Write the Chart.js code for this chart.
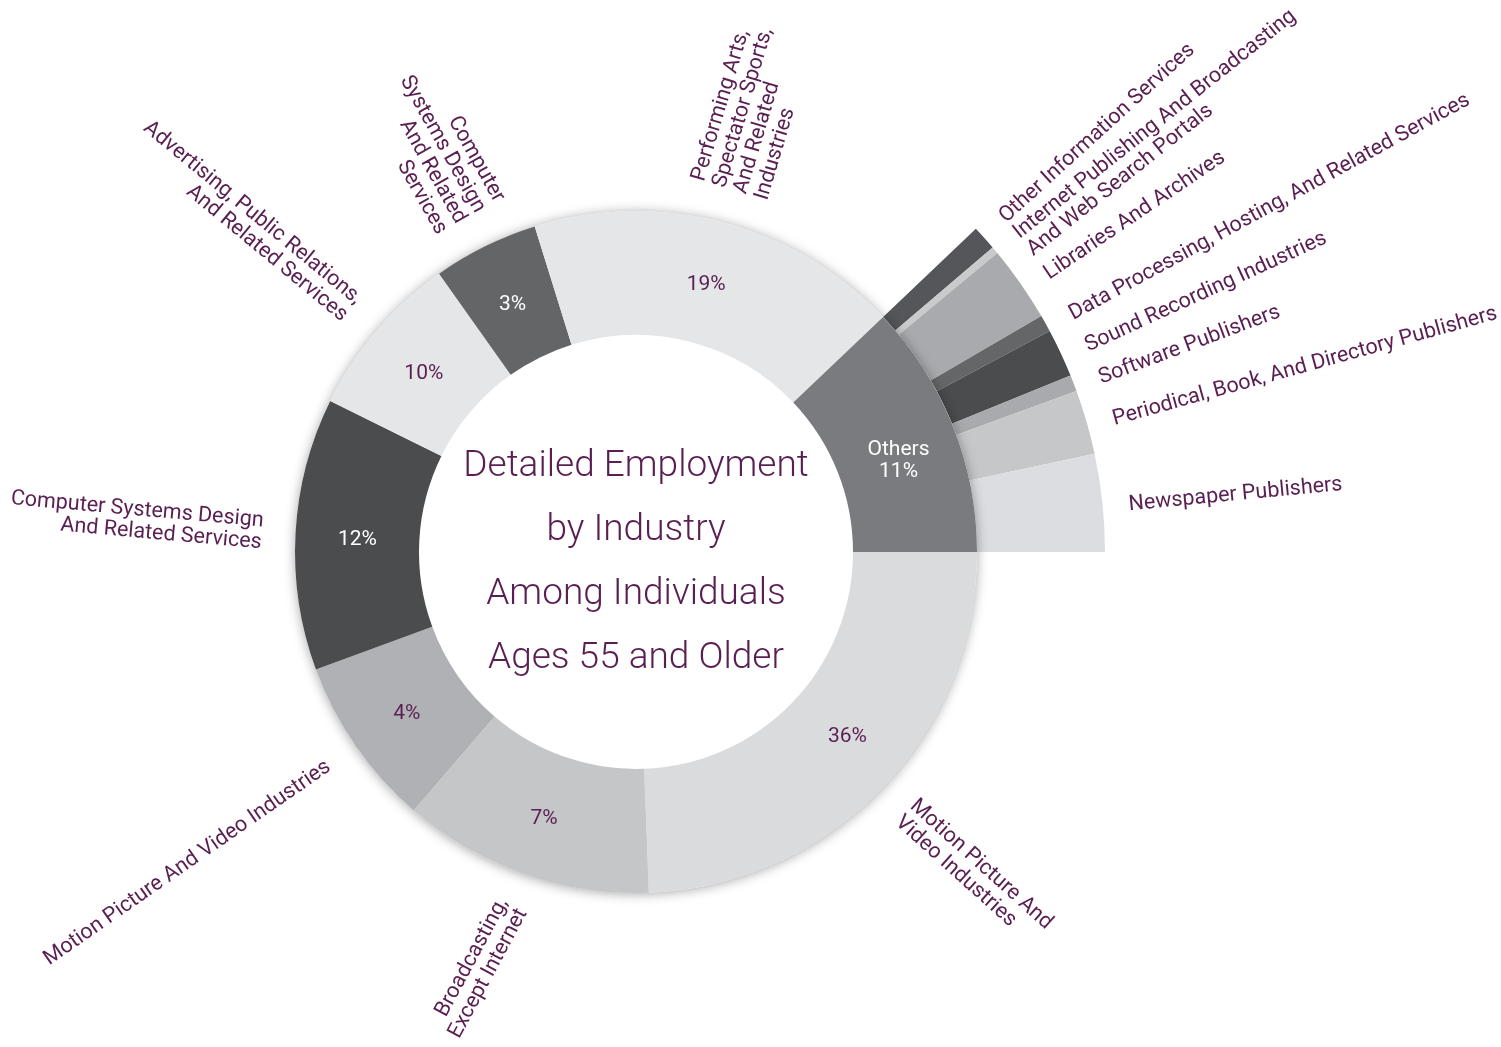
<!DOCTYPE html>
<html>
<head>
<meta charset="utf-8">
<script src="https://cdn.jsdelivr.net/npm/chart.js@4.4.1/dist/chart.umd.min.js"></script>
<style>
  html, body { margin: 0; padding: 0; background: #fff; }
</style>
</head>
<body>
<canvas id="chart" width="1501" height="1047"></canvas>
<script>
// main ring, clockwise from 3 o'clock (share of the full circle)
const industries = [
  'Motion Picture And\nVideo Industries',
  'Broadcasting,\nExcept Internet',
  'Motion Picture And Video Industries',
  'Computer Systems Design\nAnd Related Services',
  'Advertising, Public Relations,\nAnd Related Services',
  'Computer\nSystems Design\nAnd Related\nServices',
  'Performing Arts,\nSpectator Sports,\nAnd Related\nIndustries',
  'Others'
];
const shares = [24.4, 11.9, 8.1, 12.9, 7.9, 5.0, 17.7, 12.1];
const pctLabels = ['36%', '7%', '4%', '12%', '10%', '3%', '19%', 'Others\n11%'];

// breakdown of "Others", counter-clockwise from 3 o'clock
const otherIndustries = [
  'Newspaper Publishers',
  'Periodical, Book, And Directory Publishers',
  'Software Publishers',
  'Sound Recording Industries',
  'Data Processing, Hosting, And Related Services',
  'Libraries And Archives',
  'Internet Publishing And Broadcasting\nAnd Web Search Portals',
  'Other Information Services'
];
const otherShares = [3.36, 2.22, 0.56, 1.67, 0.58, 2.61, 0.25, 0.85];

const mainColors = ['#dadbdd', '#c5c6c8', '#b0b1b4', '#4b4c4e', '#e5e6e8', '#646567', '#e5e6e8', '#7a7b7e'];
const pctColors = ['#5a1f52', '#5a1f52', '#5a1f52', '#ffffff', '#5a1f52', '#ffffff', '#5a1f52', '#ffffff'];
const otherColors = ['#dcdde0', '#c6c7c9', '#a9aaad', '#4b4c4e', '#656668', '#a9aaad', '#c9cacc', '#55565a'];
const textColor = '#5a1f52';
const titleLines = ['Detailed Employment', 'by Industry', 'Among Individuals', 'Ages 55 and Older'];

// small hand nudges (degrees) so labels sit like the original
const pctShift = [-3.2, 0, 0, 0, 0, 0, 0, 2];
const labelTilt = [-2, 9, 0, 2, -1, -3, 2, 0];
const subShift = [-0.6, -0.6, -0.6, -0.6, -0.6, -0.9, -1.5, 0.2];

// outer ring only covers the "Others" sector, the rest is an empty filler slice
const otherTotal = otherShares.reduce((a, b) => a + b, 0);
const subData = [100 - otherTotal].concat(otherShares.slice().reverse());
const subNames = [''].concat(otherIndustries.slice().reverse());
const subColors = ['rgba(0,0,0,0)'].concat(otherColors.slice().reverse());
const subNudge = [0].concat(subShift.slice().reverse());

const deg = Math.PI / 180;

function drawRadial(ctx, cx, cy, angle, r, lines, lh, tilt) {
  let a = angle % (2 * Math.PI);
  if (a < 0) a += 2 * Math.PI;
  const flip = a > Math.PI / 2 && a < 3 * Math.PI / 2;
  ctx.save();
  ctx.translate(cx + r * Math.cos(a), cy + r * Math.sin(a));
  ctx.rotate((flip ? a - Math.PI : a) + (tilt || 0) * deg);
  ctx.textAlign = flip ? 'right' : 'left';
  ctx.textBaseline = 'middle';
  lines.forEach((t, i) => ctx.fillText(t, 0, (i - (lines.length - 1) / 2) * lh));
  ctx.restore();
}

const ringLabels = {
  id: 'ringLabels',
  beforeDatasetDraw(chart, args) {
    if (args.index !== 1) return;
    // soft shadow under the main ring
    const arc = chart.getDatasetMeta(1).data[0];
    const ctx = chart.ctx;
    ctx.save();
    ctx.shadowColor = 'rgba(0,0,0,0.35)';
    ctx.shadowBlur = 12;
    ctx.shadowOffsetY = 1;
    ctx.beginPath();
    ctx.arc(arc.x, arc.y, arc.outerRadius, 0, Math.PI * 2);
    ctx.fillStyle = '#fff';
    ctx.fill();
    ctx.restore();
  },
  afterDatasetsDraw(chart) {
    const ctx = chart.ctx;
    ctx.save();
    ctx.fillStyle = textColor;

    const main = chart.getDatasetMeta(1).data;
    main.forEach((arc, i) => {
      const mid = (arc.startAngle + arc.endAngle) / 2;
      // percentage inside the slice
      const pa = mid + pctShift[i] * deg;
      const rIn = (arc.innerRadius + arc.outerRadius) / 2;
      const lines = pctLabels[i].split('\n');
      ctx.save();
      ctx.font = '21px Roboto';
      ctx.fillStyle = pctColors[i];
      ctx.textAlign = 'center';
      ctx.textBaseline = 'middle';
      lines.forEach((t, k) => ctx.fillText(t, arc.x + rIn * Math.cos(pa),
        arc.y + rIn * Math.sin(pa) + 3 + (k - (lines.length - 1) / 2) * 22));
      ctx.restore();
      if (industries[i] !== 'Others') {
        ctx.font = '21.5px Roboto';
        drawRadial(ctx, arc.x, arc.y, mid, arc.outerRadius + 33, industries[i].split('\n'), 22, labelTilt[i]);
      }
    });

    ctx.font = '21.5px Roboto';
    const sub = chart.getDatasetMeta(0).data;
    sub.forEach((arc, i) => {
      if (!subNames[i]) return;
      const mid = (arc.startAngle + arc.endAngle) / 2 - subNudge[i] * deg;
      drawRadial(ctx, arc.x, arc.y, mid, arc.outerRadius + 26, subNames[i].split('\n'), 22, 0);
    });

    // centre title
    const c = main[0];
    ctx.font = '300 37px Roboto';
    ctx.textAlign = 'center';
    ctx.textBaseline = 'middle';
    titleLines.forEach((t, k) => ctx.fillText(t, c.x, c.y + (k - 1.5) * 64 + 11));
    ctx.restore();
  }
};

new Chart(document.getElementById('chart'), {
  type: 'doughnut',
  data: {
    labels: industries,
    datasets: [
      { data: subData, backgroundColor: subColors, borderWidth: 0, weight: 128, order: 1 },
      { data: shares, backgroundColor: mainColors, borderWidth: 0, weight: 124, order: 0 }
    ]
  },
  options: {
    responsive: false,
    animation: false,
    events: [],
    rotation: 90,
    cutout: 217,
    layout: { padding: { left: 167, right: 396, top: 83, bottom: 26 } },
    plugins: { legend: { display: false }, tooltip: { enabled: false } }
  },
  plugins: [ringLabels]
});
</script>
</body>
</html>
